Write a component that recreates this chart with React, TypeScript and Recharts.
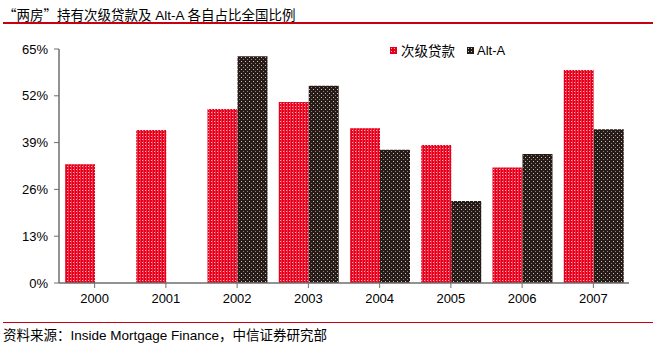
import React from 'react';
import { BarChart, Bar, XAxis, YAxis } from 'recharts';

const years = ['2000', '2001', '2002', '2003', '2004', '2005', '2006', '2007'];
const subprime = [33, 42.5, 48.3, 50.3, 43, 38.3, 32.1, 59.2];
const altA: (number | null)[] = [null, null, 63, 54.8, 37, 22.8, 35.8, 42.7];
const yTicks = [0, 13, 26, 39, 52, 65];
const seriesNames = ['次级贷款', 'Alt-A'];

const data = years.map((y, i) => ({ year: y, sub: subprime[i], alt: altA[i] }));

const FONT = '"Liberation Sans", Arial, "Noto Sans CJK SC", sans-serif';
const CJK = '"Noto Sans CJK SC", sans-serif';

const PatternSwatch = ({ id }: { id: string }) => (
  <svg width={7} height={7} style={{ display: 'block' }}>
    <defs>
      {id === 'red' ? (
        <pattern id="lgRed" width={3} height={3} patternUnits="userSpaceOnUse">
          <rect width={3} height={3} fill="#e5001a" />
          <rect x={1} y={1} width={1} height={1} fill="#ffb0b8" />
        </pattern>
      ) : (
        <pattern id="lgBlack" width={3} height={3} patternUnits="userSpaceOnUse">
          <rect width={3} height={3} fill="#271b18" />
          <rect x={1} y={1} width={1} height={1} fill="#c8c2c0" />
        </pattern>
      )}
    </defs>
    <rect width={7} height={7} fill={id === 'red' ? 'url(#lgRed)' : 'url(#lgBlack)'} />
  </svg>
);

export default function App() {
  return (
    <div style={{ position: 'absolute', left: 0, top: 0, width: 654, height: 349, background: '#fff', fontFamily: FONT }}>
      <div style={{ position: 'absolute', left: 3, top: 5, fontSize: 13.5, lineHeight: '18px', color: '#000', whiteSpace: 'nowrap' }}>
        <span style={{ fontFamily: CJK }}>“两房”持有次级贷款及</span> Alt-A <span style={{ fontFamily: CJK }}>各自占比全国比例</span>
      </div>
      <div style={{ position: 'absolute', left: 3, top: 22, width: 650, height: 1.5, background: '#c8000f' }} />
      <BarChart
        width={654}
        height={349}
        data={data}
        margin={{ top: 49, right: 25, bottom: 36, left: 0 }}
        barCategoryGap="8.4%"
        barGap={0}
      >
        <defs>
          <pattern id="patRed" width={3} height={3} patternUnits="userSpaceOnUse">
            <rect width={3} height={3} fill="#e5001a" />
            <rect x={1} y={1} width={1} height={1} fill="#ffb0b8" />
            <rect x={2} y={0} width={1} height={3} fill="#f0304a" />
          </pattern>
          <pattern id="patBlack" width={4} height={4} patternUnits="userSpaceOnUse">
            <rect width={4} height={4} fill="#271b18" />
            <rect x={1} y={1} width={1} height={1} fill="#c8c2c0" />
            <rect x={3} y={3} width={1} height={1} fill="#8a8280" />
          </pattern>
        </defs>
        <XAxis
          dataKey="year"
          height={30}
          tickSize={5}
          tickMargin={6}
          axisLine={{ stroke: '#6e6e6e', strokeWidth: 1.5 }}
          tickLine={{ stroke: '#6e6e6e' }}
          tick={{ fill: '#000', fontSize: 13, fontFamily: FONT }}
          interval={0}
        />
        <YAxis
          width={59}
          domain={[0, 65]}
          ticks={yTicks}
          tickFormatter={(v: number) => `${v}%`}
          tickSize={5}
          tickMargin={6}
          axisLine={{ stroke: '#6e6e6e', strokeWidth: 1.5 }}
          tickLine={{ stroke: '#6e6e6e' }}
          tick={{ fill: '#000', fontSize: 13, fontFamily: FONT }}
          interval={0}
        />
        <Bar dataKey="sub" name={seriesNames[0]} fill="url(#patRed)" isAnimationActive={false} />
        <Bar dataKey="alt" name={seriesNames[1]} fill="url(#patBlack)" isAnimationActive={false} />
      </BarChart>
      <div style={{ position: 'absolute', left: 390, top: 40, display: 'flex', alignItems: 'center', fontSize: 13, color: '#000', whiteSpace: 'nowrap' }}>
        <PatternSwatch id="red" />
        <span style={{ fontFamily: CJK, fontSize: 13.5, marginLeft: 4, marginRight: 12 }}>{seriesNames[0]}</span>
        <PatternSwatch id="black" />
        <span style={{ marginLeft: 3 }}>{seriesNames[1]}</span>
      </div>
      <div style={{ position: 'absolute', left: 3, top: 321.5, width: 650, height: 1.5, background: '#c8000f' }} />
      <div style={{ position: 'absolute', left: 3, top: 325, fontSize: 13.5, lineHeight: '18px', color: '#000', whiteSpace: 'nowrap' }}>
        <span style={{ fontFamily: CJK }}>资料来源：</span>Inside Mortgage Finance<span style={{ fontFamily: CJK }}>，中信证券研究部</span>
      </div>
    </div>
  );
}
